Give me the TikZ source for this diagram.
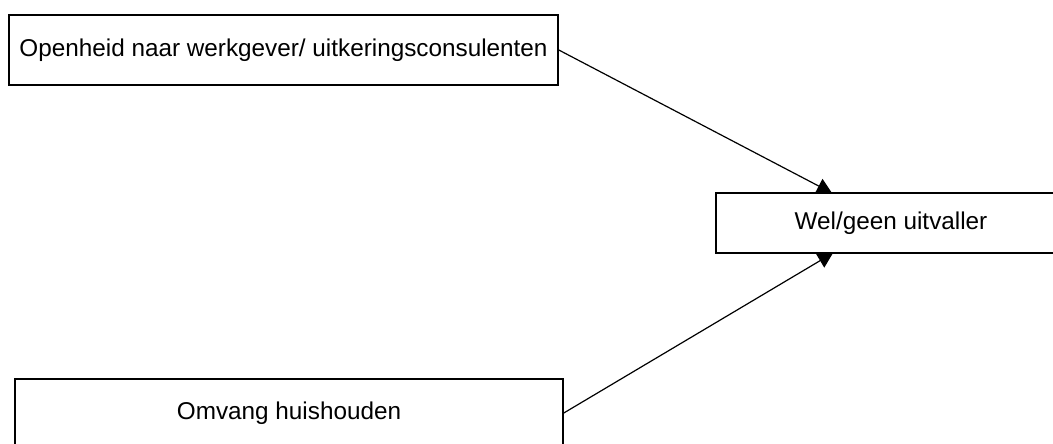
\documentclass[tikz,border=0pt]{standalone}
\usepackage{fontspec}
\setmainfont{Liberation Sans}
\usetikzlibrary{arrows.meta}
\begin{document}
\begin{tikzpicture}[x=1pt,y=-1pt,
  box/.style={draw=black,line width=1.6pt,inner sep=0pt,font=\fontsize{24.3}{28}\selectfont},
  conn/.style={line width=1.2pt,-{Triangle[length=15pt,width=16pt]}}]
\useasboundingbox (0,0) rectangle (1053,444);
\begin{scope}
\clip (0,0) rectangle (1053,444);
\node[box,minimum width=549pt,minimum height=70pt] (open) at (283.5,50) {Openheid naar werkgever/ uitkeringsconsulenten};
\node[box,minimum width=350pt,minimum height=60pt] (wel) at (891,223) {Wel/geen uitvaller};
\node[box,minimum width=548pt,minimum height=68pt] (omv) at (289,413) {Omvang huishouden};
\coordinate (t1) at (832,193);
\coordinate (t2) at (833,253);
\draw[conn] (open.east) -- (t1);
\draw[conn] (omv.east) -- (t2);
\end{scope}
\end{tikzpicture}
\end{document}
